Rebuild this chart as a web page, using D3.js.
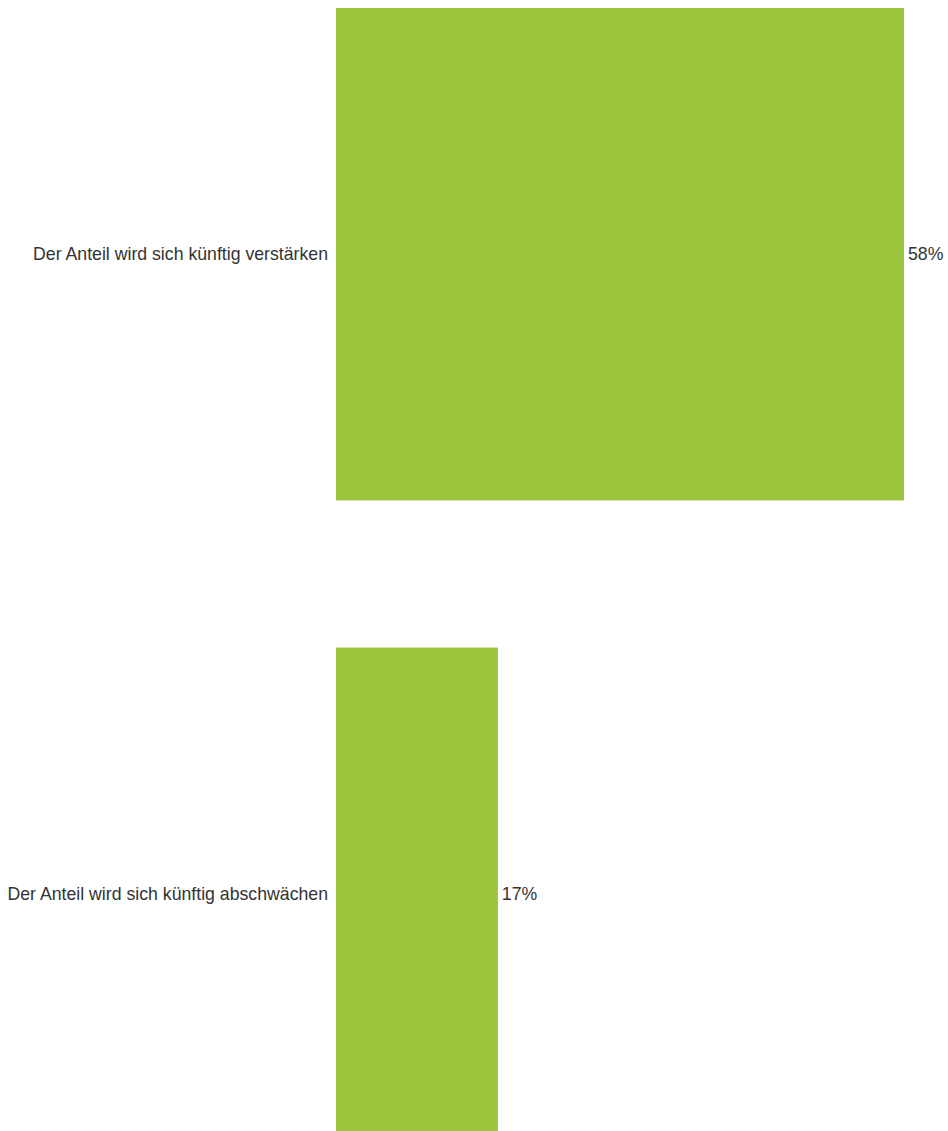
<!DOCTYPE html>
<html>
<head>
<meta charset="utf-8">
<script src="https://cdn.jsdelivr.net/npm/d3@7"></script>
<style>
  html, body { margin: 0; padding: 0; background: #fff; overflow: hidden; }
  svg { display: block; }
</style>
</head>
<body>
<svg id="chart" width="948" height="1131"></svg>
<script>
const categories = [
  "Der Anteil wird sich künftig verstärken",
  "Der Anteil wird sich künftig abschwächen"
];
const values = [57.9, 16.5];
const valueLabels = ["58%", "17%"];

const svg = d3.select("#chart");
const x = d3.scaleLinear().domain([0, d3.max(values)]).range([336, 904]);
const y = d3.scaleBand().domain(categories).range([8, 1140]).paddingInner(0.23).paddingOuter(0);

const data = categories.map((c, i) => ({ c, v: values[i], l: valueLabels[i] }));

svg.selectAll("rect.bar").data(data).join("rect")
  .attr("class", "bar")
  .attr("x", x(0))
  .attr("y", d => y(d.c))
  .attr("width", d => x(d.v) - x(0))
  .attr("height", y.bandwidth())
  .attr("fill", "#9bc43d");

svg.selectAll("text.cat").data(data).join("text")
  .attr("class", "cat")
  .attr("x", x(0) - 8)
  .attr("y", d => y(d.c) + y.bandwidth() / 2)
  .attr("dy", "0.35em")
  .attr("text-anchor", "end")
  .attr("font-family", "'Liberation Sans', Arial, sans-serif")
  .attr("font-size", 17.7)
  .attr("fill", "#333")
  .text(d => d.c);

svg.selectAll("text.val").data(data).join("text")
  .attr("class", "val")
  .attr("x", d => x(d.v) + 4)
  .attr("y", d => y(d.c) + y.bandwidth() / 2)
  .attr("dy", "0.35em")
  .attr("text-anchor", "start")
  .attr("font-family", "'Liberation Sans', Arial, sans-serif")
  .attr("font-size", 17.7)
  .attr("fill", "#333")
  .text(d => d.l);
</script>
</body>
</html>
